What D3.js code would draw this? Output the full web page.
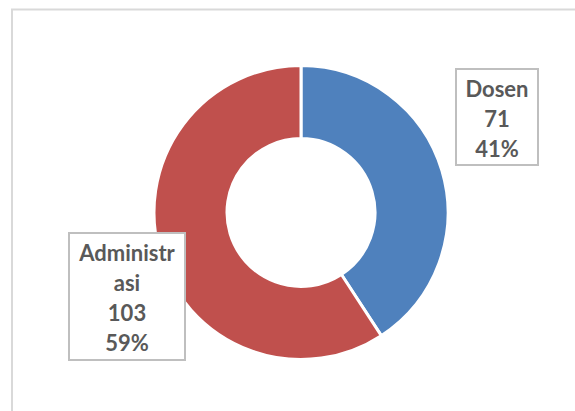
<!DOCTYPE html>
<html>
<head>
<meta charset="utf-8">
<script src="https://cdn.jsdelivr.net/npm/d3@7"></script>
<style>
  html, body { margin: 0; padding: 0; background: #fff; }
  svg { display: block; }
</style>
</head>
<body>
<svg id="chart" width="575" height="411"></svg>
<script>
const categories = ["Dosen", "Administrasi"];
const values = [71, 103];
const percentLabels = ["41%", "59%"];
const colors = ["#4F81BD", "#C0504D"];
const labelLines = [["Dosen", "71", "41%"], ["Administr", "asi", "103", "59%"]];

const svg = d3.select("#chart");
const W = 575, H = 411;

// chart frame
svg.append("rect")
  .attr("x", 12).attr("y", 9.5)
  .attr("width", W + 20).attr("height", H + 20)
  .attr("fill", "#fff")
  .attr("stroke", "#d9d9d9").attr("stroke-width", 2);

const cx = 301, cy = 212.5, outerR = 147, innerR = 74;

const pie = d3.pie().sort(null).value(d => d)
  .startAngle(0).endAngle(2 * Math.PI);
const arcs = pie(values);
const arc = d3.arc().innerRadius(innerR).outerRadius(outerR);

const g = svg.append("g").attr("transform", `translate(${cx},${cy})`);
g.selectAll("path.slice").data(arcs).enter().append("path")
  .attr("class", "slice")
  .attr("d", arc)
  .attr("fill", (d, i) => colors[i])
  .attr("stroke", "#fff").attr("stroke-width", 3)
  .attr("stroke-linejoin", "miter");

// data labels (boxes)
const boxes = [
  { x: 456, y: 69, w: 82, h: 96 },
  { x: 69, y: 233, w: 116, h: 127 }
];
const lineH = 30;
arcs.forEach((d, i) => {
  const b = boxes[i];
  const lg = svg.append("g");
  lg.append("rect")
    .attr("x", b.x).attr("y", b.y).attr("width", b.w).attr("height", b.h)
    .attr("fill", "#fff").attr("stroke", "#bfbfbf").attr("stroke-width", 2);
  const lines = labelLines[i];
  const total = lines.length * lineH;
  const top = b.y + (b.h - total) / 2 + 1;
  lines.forEach((t, k) => {
    lg.append("text")
      .attr("x", b.x + b.w / 2)
      .attr("y", top + lineH * k + lineH / 2)
      .attr("text-anchor", "middle")
      .attr("dominant-baseline", "central")
      .attr("font-family", "Lato, 'Open Sans', sans-serif")
      .attr("font-weight", "bold")
      .attr("font-size", 22)
      .attr("fill", "#595959")
      .text(t);
  });
});
</script>
</body>
</html>
